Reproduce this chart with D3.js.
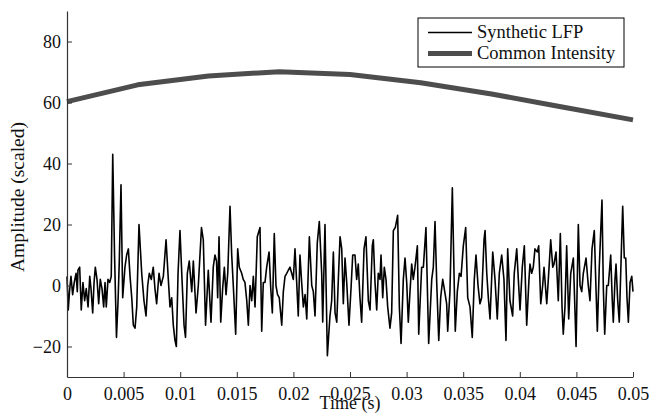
<!DOCTYPE html>
<html>
<head>
<meta charset="utf-8">
<script src="https://cdn.jsdelivr.net/npm/d3@7"></script>
<style>
  html, body { margin: 0; padding: 0; background: #fff; }
  svg { display: block; }
  text { font-family: "Liberation Serif", "Times New Roman", serif; fill: #111; }
</style>
</head>
<body>
<svg id="chart" width="651" height="413"></svg>
<script>
// Synthetic LFP trace: sample times (ms) and amplitudes (scaled)
const lfpTimeMs = [
  0.00, 0.11, 0.22, 0.35, 0.50, 0.64, 0.80, 0.91, 0.97, 1.12,
  1.26, 1.41, 1.56, 1.70, 1.86, 2.01, 2.12, 2.27, 2.39, 2.50,
  2.65, 2.80, 2.94, 3.09, 3.24, 3.36, 3.47, 3.62, 3.77, 3.91,
  4.04, 4.20, 4.37, 4.51, 4.62, 4.77, 4.92, 5.12, 5.27, 5.42,
  5.57, 5.72, 5.86, 6.01, 6.16, 6.36, 6.60, 6.80, 6.98, 7.13,
  7.27, 7.45, 7.62, 7.77, 7.92, 8.13, 8.30, 8.51, 8.75, 8.95,
  9.10, 9.25, 9.39, 9.54, 9.66, 9.81, 9.98, 10.16, 10.34, 10.47,
  10.63, 10.80, 11.02, 11.16, 11.40, 11.60, 11.88, 12.04, 12.24, 12.48,
  12.72, 12.92, 13.07, 13.21, 13.31, 13.43, 13.58, 13.75, 13.90, 14.05,
  14.20, 14.40, 14.55, 14.69, 14.90, 15.08, 15.22, 15.43, 15.57, 15.72,
  15.88, 16.02, 16.17, 16.32, 16.46, 16.61, 16.81, 17.05, 17.20, 17.34,
  17.49, 17.64, 17.85, 18.00, 18.14, 18.31, 18.46, 18.60, 18.75, 18.97,
  19.11, 19.26, 19.41, 19.55, 19.70, 19.85, 19.99, 20.14, 20.29, 20.43,
  20.58, 20.73, 20.88, 21.03, 21.18, 21.41, 21.62, 21.76, 21.91, 22.11,
  22.29, 22.50, 22.59, 22.79, 23.00, 23.23, 23.38, 23.53, 23.68, 23.83,
  23.98, 24.12, 24.27, 24.41, 24.56, 24.71, 24.91, 25.09, 25.24, 25.44,
  25.59, 25.73, 25.88, 26.03, 26.24, 26.41, 26.62, 26.77, 26.97, 27.06,
  27.21, 27.36, 27.50, 27.65, 27.74, 27.89, 28.03, 28.18, 28.33, 28.53,
  28.68, 28.83, 29.00, 29.21, 29.36, 29.51, 29.71, 29.86, 30.01, 30.15,
  30.30, 30.45, 30.59, 30.74, 30.95, 31.07, 31.33, 31.48, 31.71, 31.95,
  32.22, 32.36, 32.51, 32.66, 32.84, 33.01, 33.19, 33.37, 33.54, 33.63,
  33.83, 34.04, 34.21, 34.30, 34.48, 34.66, 34.81, 35.01, 35.22, 35.40,
  35.60, 35.80, 35.98, 36.13, 36.31, 36.48, 36.63, 36.84, 36.93, 37.08,
  37.22, 37.37, 37.61, 37.81, 38.01, 38.19, 38.40, 38.60, 38.78, 38.93,
  39.13, 39.37, 39.51, 39.73, 39.87, 40.02, 40.22, 40.40, 40.61, 40.81,
  40.90, 41.05, 41.19, 41.34, 41.55, 41.67, 41.85, 42.02, 42.14, 42.38,
  42.52, 42.73, 42.91, 43.02, 43.20, 43.40, 43.58, 43.73, 43.84, 43.99,
  44.14, 44.32, 44.50, 44.73, 44.88, 44.97, 45.17, 45.32, 45.47, 45.61,
  45.85, 46.05, 46.20, 46.38, 46.58, 46.73, 46.85, 47.02, 47.26, 47.38,
  47.50, 47.68, 47.82, 48.03, 48.17, 48.26, 48.41, 48.50, 48.65, 48.79,
  49.00, 49.09, 49.23, 49.36, 49.47, 49.59, 49.74, 49.89, 50.00
];
const lfpAmplitude = [
  3, -8, -2, 3, -3, 1, 4, -2, 5, 6,
  -8, 1, -5, -1, -7, 3, -1, -9, 1, 6,
  2, -6, 2, -1, -7, 1, -7, 2, 1, 3,
  43, 10, -17, -5, 8, 33, -4, 6, 10, 12,
  3, -4, -13, -14, -7, 20, 4, -5, -10, 0,
  4, 2, 6, -1, -6, 4, 0, 3, 15, 2,
  -7, -4, -13, -18, -20, 4, 18, 2, -13, -17,
  4, 8, -2, 8, -9, 0, 19, 15, -13, 5,
  -12, 6, 10, 8, -4, 16, -12, -1, 6, -3,
  4, 26, 10, 0, -16, 12, 6, 4, 2, 1,
  -5, -13, 0, -5, 3, -7, 16, 19, -15, 1,
  1, 6, 11, -1, -9, 17, 0, -3, -4, -13,
  -2, 3, 4, 5, 6, 4, 2, 12, 1, -10,
  10, 1, -7, -3, -11, 16, 0, -2, -10, 14,
  21, 4, -12, 20, -23, -10, -5, 11, -9, -12,
  3, 16, 12, -6, 9, 1, -13, -1, 10, 10,
  2, 7, -4, -12, 12, 16, -5, -8, 13, 15,
  1, -8, 4, 2, 10, -4, 6, 2, -7, -14,
  -9, 18, 19, 23, -7, -19, 2, 9, 1, -12,
  -2, 7, 2, 6, 13, -16, 6, 6, 19, -19,
  2, 6, 21, 1, -18, -4, 2, -2, -6, -15,
  -2, 32, 0, -15, -2, 4, 3, 13, 19, -4,
  -7, -17, 2, 10, 0, -6, -4, 15, 18, 4,
  -4, -11, 11, 2, -11, 4, 10, 2, -18, 12,
  -5, -10, 4, 12, 2, -8, 6, 13, -13, 2,
  7, 4, 6, 12, 11, 13, -6, 0, 6, -6,
  2, 15, 6, 7, 11, -5, 17, -7, -16, -7,
  13, -11, 4, 9, -9, -20, 20, 0, -2, 4,
  9, 0, -5, 12, 18, -1, -15, 6, 28, -1,
  -16, 0, 0, 10, -5, -12, 2, 7, -5, -12,
  15, 26, 9, 9, -4, -12, 1, 3, -2
];

// Common intensity envelope, sampled every 6.25 ms
const intensityTime = [0, 0.00625, 0.0125, 0.01875, 0.025, 0.03125, 0.0375, 0.04375, 0.05];
const intensityValue = [60.3, 65.8, 68.7, 70.1, 69.2, 66.5, 62.8, 58.5, 54.3];

// Axis ticks
const xTicks = [0, 0.005, 0.01, 0.015, 0.02, 0.025, 0.03, 0.035, 0.04, 0.045, 0.05];
const xTickLabels = ["0", "0.005", "0.01", "0.015", "0.02", "0.025", "0.03", "0.035", "0.04", "0.045", "0.05"];
const yTicks = [-20, 0, 20, 40, 60, 80];
const yTickLabels = ["\u221220", "0", "20", "40", "60", "80"];

const seriesNames = ["Synthetic LFP", "Common Intensity"];

const margin = { left: 67, top: 11, right: 18, bottom: 36 };
const W = 651, H = 413;
const plotW = W - margin.left - margin.right;
const plotH = H - margin.top - margin.bottom;

const svg = d3.select("#chart");
const g = svg.append("g").attr("transform", `translate(${margin.left},${margin.top})`);

const x = d3.scaleLinear().domain([0, 0.05]).range([0, plotW]);
const y = d3.scaleLinear().domain([-30, 90]).range([plotH, 0]);

const axisColor = "#333";

// LFP trace
const lfp = lfpTimeMs.map((t, i) => [t / 1000, lfpAmplitude[i]]);
g.append("path")
  .datum(lfp)
  .attr("fill", "none")
  .attr("stroke", "#000")
  .attr("stroke-width", 1.6)
  .attr("stroke-linejoin", "round")
  .attr("d", d3.line().x(d => x(d[0])).y(d => y(d[1])));

// Intensity envelope
const env = intensityTime.map((t, i) => [t, intensityValue[i]]);
g.append("path")
  .datum(env)
  .attr("fill", "none")
  .attr("stroke", "#4d4d4d")
  .attr("stroke-width", 5)
  .attr("stroke-linejoin", "round")
  .attr("d", d3.line().x(d => x(d[0])).y(d => y(d[1])));

// Axes (ticks point inward)
const xAxis = d3.axisBottom(x)
  .tickValues(xTicks)
  .tickSizeInner(-5).tickSizeOuter(0)
  .tickFormat((d, i) => xTickLabels[i]);
const gx = g.append("g").attr("transform", `translate(0,${plotH})`).call(xAxis);

const yAxis = d3.axisLeft(y)
  .tickValues(yTicks)
  .tickSizeInner(-5).tickSizeOuter(0)
  .tickFormat((d, i) => yTickLabels[i]);
const gy = g.append("g").call(yAxis);

[gx, gy].forEach(ax => {
  ax.select(".domain").attr("stroke", axisColor).attr("stroke-width", 1.2);
  ax.selectAll(".tick line").attr("stroke", axisColor).attr("stroke-width", 1);
  ax.selectAll(".tick text")
    .attr("font-family", '"Liberation Serif", "Times New Roman", serif')
    .attr("font-size", 18)
    .attr("fill", "#111");
});
gx.selectAll(".tick text").attr("y", 10).attr("dy", "0.71em");
gy.selectAll(".tick text").attr("x", -6).attr("dy", "0.34em");

// Axis titles
svg.append("text")
  .attr("x", margin.left + plotW / 2)
  .attr("y", 409)
  .attr("text-anchor", "middle")
  .attr("font-size", 18)
  .text("Time (s)");

svg.append("text")
  .attr("transform", `translate(24,197) rotate(-90)`)
  .attr("text-anchor", "middle")
  .attr("font-size", 19.5)
  .text("Amplitude (scaled)");

// Legend
const legend = svg.append("g").attr("transform", "translate(418,18)");
legend.append("rect")
  .attr("width", 206).attr("height", 49)
  .attr("fill", "#fff").attr("stroke", "#000").attr("stroke-width", 1);
const legendStyles = [
  { color: "#000", width: 1.3 },
  { color: "#4d4d4d", width: 5 }
];
seriesNames.forEach((name, i) => {
  const cy = 14.5 + i * 21;
  legend.append("line")
    .attr("x1", 10).attr("x2", 54)
    .attr("y1", cy).attr("y2", cy)
    .attr("stroke", legendStyles[i].color)
    .attr("stroke-width", legendStyles[i].width);
  legend.append("text")
    .attr("x", 59).attr("y", cy + 5.5)
    .attr("font-size", 18.5)
    .text(name);
});
</script>
</body>
</html>
